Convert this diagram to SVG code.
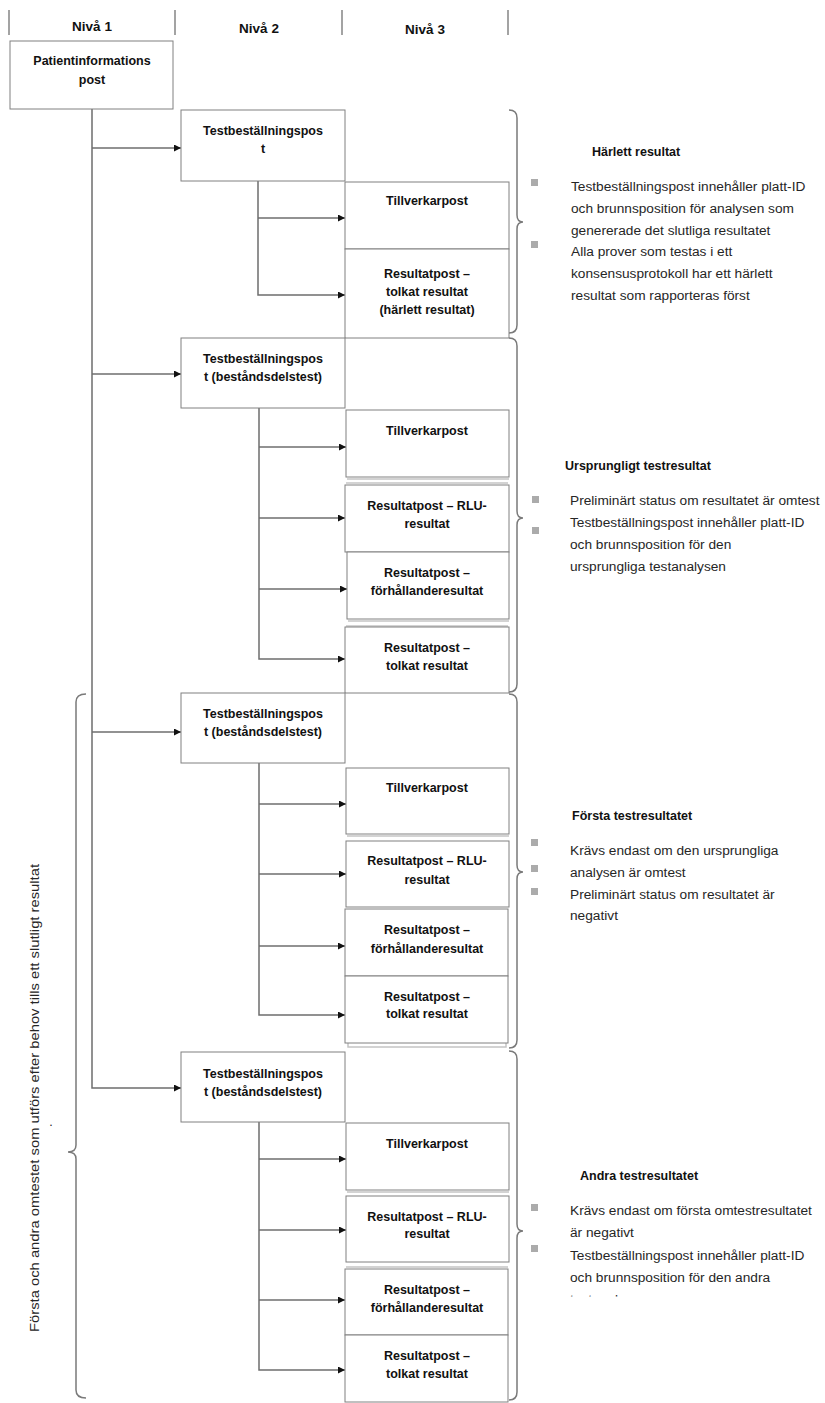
<svg xmlns="http://www.w3.org/2000/svg" width="825" height="1403" viewBox="0 0 825 1403">
  <defs>
    <style>
      .box { fill: #ffffff; stroke: #808080; stroke-width: 1; }
      .shadow { fill: none; stroke: #c4c4c4; stroke-width: 1.5; }
      .lbl { font-family: "Liberation Sans", Arial, sans-serif; font-weight: bold; font-size: 12.5px; fill: #111111; text-anchor: middle; }
      .hdr { font-size: 13.5px; }
      .head { font-family: "Liberation Sans", Arial, sans-serif; font-weight: bold; font-size: 12.5px; fill: #111111; }
      .body { font-family: "Liberation Sans", Arial, sans-serif; font-size: 13.7px; fill: #262626; }
      .side { font-family: "Liberation Sans", Arial, sans-serif; font-size: 12.5px; fill: #262626; text-anchor: middle; }
      .bullet { fill: #ababab; }
      .conn { fill: none; stroke: #6e6e6e; stroke-width: 1.5; }
      .brace { fill: none; stroke: #7a7a7a; stroke-width: 1.5; }
      .sep { stroke: #a3a3a3; stroke-width: 2; }
    </style>
    <marker id="arr" markerWidth="7" markerHeight="7" refX="7" refY="3.5" orient="auto" markerUnits="userSpaceOnUse">
      <path d="M0,0 L7,3.5 L0,7 z" fill="#111111"/>
    </marker>
    <clipPath id="cutLine">
      <rect x="560" y="1280" width="260" height="16.5"/>
    </clipPath>
  </defs>

  <!-- column header -->
  <g id="header">
    <line class="sep" x1="9" y1="10" x2="9" y2="35"/>
    <line class="sep" x1="175" y1="10" x2="175" y2="35"/>
    <line class="sep" x1="342" y1="10" x2="342" y2="35"/>
    <line class="sep" x1="508" y1="10" x2="508" y2="35"/>
    <text class="lbl hdr" x="92" y="31">Nivå 1</text>
    <text class="lbl hdr" x="259" y="33">Nivå 2</text>
    <text class="lbl hdr" x="425" y="34">Nivå 3</text>
  </g>

  <!-- connectors -->
  <g id="connectors">
    <!-- level 1 trunk -->
    <path class="conn" d="M92,109 L92,1088 L181,1088" marker-end="url(#arr)"/>
    <line class="conn" x1="92" y1="148" x2="181" y2="148" marker-end="url(#arr)"/>
    <line class="conn" x1="92" y1="374" x2="181" y2="374" marker-end="url(#arr)"/>
    <line class="conn" x1="92" y1="732" x2="181" y2="732" marker-end="url(#arr)"/>
    <!-- block 1 -->
    <path class="conn" d="M258,181 L258,295 L345,295" marker-end="url(#arr)"/>
    <line class="conn" x1="258" y1="218" x2="345" y2="218" marker-end="url(#arr)"/>
    <!-- block 2 -->
    <path class="conn" d="M259,408 L259,659 L345,659" marker-end="url(#arr)"/>
    <line class="conn" x1="259" y1="447" x2="346" y2="447" marker-end="url(#arr)"/>
    <line class="conn" x1="259" y1="518" x2="345" y2="518" marker-end="url(#arr)"/>
    <line class="conn" x1="259" y1="589" x2="347" y2="589" marker-end="url(#arr)"/>
    <!-- block 3 -->
    <path class="conn" d="M259,763 L259,1015 L345,1015" marker-end="url(#arr)"/>
    <line class="conn" x1="259" y1="804" x2="346" y2="804" marker-end="url(#arr)"/>
    <line class="conn" x1="259" y1="874" x2="346" y2="874" marker-end="url(#arr)"/>
    <line class="conn" x1="259" y1="946" x2="345" y2="946" marker-end="url(#arr)"/>
    <!-- block 4 -->
    <path class="conn" d="M259,1122 L259,1370 L345,1370" marker-end="url(#arr)"/>
    <line class="conn" x1="259" y1="1159" x2="346" y2="1159" marker-end="url(#arr)"/>
    <line class="conn" x1="259" y1="1230" x2="346" y2="1230" marker-end="url(#arr)"/>
    <line class="conn" x1="259" y1="1300" x2="345" y2="1300" marker-end="url(#arr)"/>
  </g>

  <!-- level 1 -->
  <g id="patient">
    <rect class="box" x="10" y="41" width="163" height="68"/>
    <text class="lbl" x="92" y="65">Patientinformations</text>
    <text class="lbl" x="92" y="84">post</text>
  </g>

  <!-- block 1: derived result -->
  <g id="order1">
    <rect class="box" x="181" y="110" width="164" height="71"/>
    <text class="lbl" x="263" y="135">Testbeställningspos</text>
    <text class="lbl" x="263" y="153">t</text>
  </g>
  <g id="mfr1">
    <rect class="box" x="345" y="182" width="164" height="67"/>
    <text class="lbl" x="427" y="205">Tillverkarpost</text>
  </g>
  <g id="result1">
    <rect class="box" x="345" y="249" width="164" height="89"/>
    <text class="lbl" x="427" y="278">Resultatpost –</text>
    <text class="lbl" x="427" y="296">tolkat resultat</text>
    <text class="lbl" x="427" y="314">(härlett resultat)</text>
  </g>

  <!-- block 2: original test result -->
  <g id="order2">
    <rect class="box" x="181" y="338" width="164" height="70"/>
    <text class="lbl" x="263" y="362.5">Testbeställningspos</text>
    <text class="lbl" x="263" y="380.5">t (beståndsdelstest)</text>
  </g>
  <g id="mfr2">
    <line class="shadow" x1="347" y1="479" x2="509" y2="479"/>
    <rect class="box" x="346" y="410" width="163" height="67"/>
    <text class="lbl" x="427" y="434.5">Tillverkarpost</text>
  </g>
  <g id="rlu2">
    <line class="shadow" x1="346" y1="483" x2="508" y2="483"/>
    <rect class="box" x="345" y="485" width="164" height="67"/>
    <text class="lbl" x="427" y="509.5">Resultatpost – RLU-</text>
    <text class="lbl" x="427" y="527.5">resultat</text>
  </g>
  <g id="ratio2">
    <line class="shadow" x1="348" y1="621" x2="509" y2="621"/>
    <rect class="box" x="347" y="552" width="162" height="67"/>
    <text class="lbl" x="427" y="576.5">Resultatpost –</text>
    <text class="lbl" x="427" y="594.5">förhållanderesultat</text>
  </g>
  <g id="interp2">
    <line class="shadow" x1="346" y1="626" x2="508" y2="626"/>
    <rect class="box" x="345" y="627" width="164" height="66"/>
    <text class="lbl" x="427" y="651.5">Resultatpost –</text>
    <text class="lbl" x="427" y="669.5">tolkat resultat</text>
  </g>

  <!-- block 3: first retest -->
  <g id="order3">
    <rect class="box" x="181" y="693" width="164" height="70"/>
    <text class="lbl" x="263" y="717.5">Testbeställningspos</text>
    <text class="lbl" x="263" y="735.5">t (beståndsdelstest)</text>
  </g>
  <g id="mfr3">
    <line class="shadow" x1="347" y1="836" x2="509" y2="836"/>
    <rect class="box" x="346" y="768" width="163" height="66"/>
    <text class="lbl" x="427" y="791.5">Tillverkarpost</text>
  </g>
  <g id="rlu3">
    <rect class="box" x="346" y="841" width="163" height="66"/>
    <text class="lbl" x="427" y="864.5">Resultatpost – RLU-</text>
    <text class="lbl" x="427" y="883.5">resultat</text>
  </g>
  <g id="ratio3">
    <rect class="box" x="345" y="909" width="163" height="67"/>
    <text class="lbl" x="427" y="933.5">Resultatpost –</text>
    <text class="lbl" x="427" y="952.5">förhållanderesultat</text>
  </g>
  <g id="interp3">
    <rect class="shadow" x="348" y="978" width="158" height="69" fill="#ffffff"/>
    <rect class="box" x="345" y="976" width="163" height="67"/>
    <text class="lbl" x="427" y="1000.5">Resultatpost –</text>
    <text class="lbl" x="427" y="1017.5">tolkat resultat</text>
  </g>

  <!-- block 4: second retest -->
  <g id="order4">
    <rect class="box" x="181" y="1052" width="164" height="70"/>
    <text class="lbl" x="263" y="1077.5">Testbeställningspos</text>
    <text class="lbl" x="263" y="1095.5">t (beståndsdelstest)</text>
  </g>
  <g id="mfr4">
    <line class="shadow" x1="347" y1="1192" x2="509" y2="1192"/>
    <rect class="box" x="346" y="1123" width="163" height="67"/>
    <text class="lbl" x="427" y="1147.5">Tillverkarpost</text>
  </g>
  <g id="rlu4">
    <rect class="box" x="346" y="1196" width="163" height="66"/>
    <text class="lbl" x="427" y="1220.5">Resultatpost – RLU-</text>
    <text class="lbl" x="427" y="1237.5">resultat</text>
  </g>
  <g id="ratio4">
    <line class="shadow" x1="346" y1="1267" x2="508" y2="1267"/>
    <rect class="box" x="345" y="1269" width="163" height="66"/>
    <text class="lbl" x="427" y="1293.5">Resultatpost –</text>
    <text class="lbl" x="427" y="1311.5">förhållanderesultat</text>
  </g>
  <g id="interp4">
    <rect class="box" x="345" y="1335" width="163" height="67"/>
    <text class="lbl" x="427" y="1359.5">Resultatpost –</text>
    <text class="lbl" x="427" y="1377.5">tolkat resultat</text>
  </g>

  <!-- braces -->
  <g id="braces">
    <path class="brace" d="M509,110 Q517,110 517,118 L517,215 Q517,222 523,222 Q517,222 517,229 L517,325 Q517,333 509,333"/>
    <path class="brace" d="M509,338 Q517,338 517,346 L517,511 Q517,518 523,518 Q517,518 517,525 L517,684 Q517,692 509,692"/>
    <path class="brace" d="M509,694 Q517,694 517,702 L517,865 Q517,872 523,872 Q517,872 517,879 L517,1040 Q517,1048 509,1048"/>
    <path class="brace" d="M509,1051 Q517,1051 517,1059 L517,1224 Q517,1231 523,1231 Q517,1231 517,1238 L517,1392 Q517,1400 509,1400"/>
    <path class="brace" d="M86,694 Q76,694 76,702 L76,1145 Q76,1152 68,1152 Q76,1152 76,1159 L76,1390 Q76,1398 86,1398"/>
  </g>

  <!-- retest note -->
  <g id="retest-note">
    <text class="side" transform="translate(39,1098) rotate(-90)" textLength="468" lengthAdjust="spacingAndGlyphs">Första och andra omtestet som utförs efter behov tills ett slutligt resultat</text>
    <text class="side" x="51" y="1126">.</text>
  </g>

  <!-- notes -->
  <g id="note1">
    <text class="head" x="592" y="155.5">Härlett resultat</text>
    <rect class="bullet" x="531" y="179" width="7" height="7"/>
    <rect class="bullet" x="531" y="241" width="7" height="7"/>
    <text class="body" x="571" y="191">Testbeställningspost innehåller platt-ID</text>
    <text class="body" x="571" y="212.8">och brunnsposition för analysen som</text>
    <text class="body" x="571" y="234.6">genererade det slutliga resultatet</text>
    <text class="body" x="571" y="256.4">Alla prover som testas i ett</text>
    <text class="body" x="571" y="278.2">konsensusprotokoll har ett härlett</text>
    <text class="body" x="571" y="300">resultat som rapporteras först</text>
  </g>
  <g id="note2">
    <text class="head" x="565" y="469.5">Ursprungligt testresultat</text>
    <rect class="bullet" x="532" y="496" width="7" height="7"/>
    <rect class="bullet" x="532" y="527" width="7" height="7"/>
    <text class="body" x="570" y="504.5">Preliminärt status om resultatet är omtest</text>
    <text class="body" x="570" y="526.5">Testbeställningspost innehåller platt-ID</text>
    <text class="body" x="570" y="549">och brunnsposition för den</text>
    <text class="body" x="570" y="571">ursprungliga testanalysen</text>
  </g>
  <g id="note3">
    <text class="head" x="572" y="819.5">Första testresultatet</text>
    <rect class="bullet" x="531" y="839" width="7" height="7"/>
    <rect class="bullet" x="531" y="865" width="7" height="7"/>
    <rect class="bullet" x="531" y="888" width="7" height="7"/>
    <text class="body" x="570" y="854.5">Krävs endast om den ursprungliga</text>
    <text class="body" x="570" y="876.5">analysen är omtest</text>
    <text class="body" x="570" y="898.5">Preliminärt status om resultatet är</text>
    <text class="body" x="570" y="920">negativt</text>
  </g>
  <g id="note4">
    <text class="head" x="580" y="1179.5">Andra testresultatet</text>
    <rect class="bullet" x="531" y="1204" width="7" height="7"/>
    <rect class="bullet" x="531" y="1245" width="7" height="7"/>
    <text class="body" x="570" y="1214.5">Krävs endast om första omtestresultatet</text>
    <text class="body" x="570" y="1236.5">är negativt</text>
    <text class="body" x="570" y="1259.5">Testbeställningspost innehåller platt-ID</text>
    <text class="body" x="570" y="1281.5">och brunnsposition för den andra</text>
    <text class="body" x="570" y="1303.5" clip-path="url(#cutLine)">testanalysen</text>
  </g>
</svg>
